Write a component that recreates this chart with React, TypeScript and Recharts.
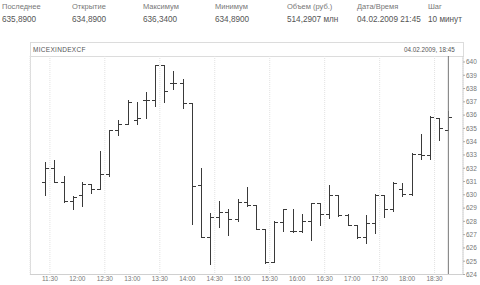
import React from 'react';
import { ComposedChart, Bar, XAxis, YAxis, CartesianGrid, ReferenceLine } from 'recharts';

const times = [
  '11:20', '11:30', '11:40', '11:50', '12:00', '12:10', '12:20', '12:30', '12:40', '12:50',
  '13:00', '13:10', '13:20', '13:30', '13:40', '13:50', '14:00', '14:10', '14:20', '14:30',
  '14:40', '14:50', '15:00', '15:10', '15:20', '15:30', '15:40', '15:50', '16:00', '16:10',
  '16:20', '16:30', '16:40', '16:50', '17:00', '17:10', '17:20', '17:30', '17:40', '17:50',
  '18:00', '18:10', '18:20', '18:30', '18:40',
];
const opens = [
  631.0, 632.05, 630.95, 629.55, 629.95, 630.8, 630.45, 631.55, 634.85, 635.35,
  635.65, 637.1, 637.1, 639.75, 638.4, 638.4, 636.9, 630.75, 626.85, 628.3,
  628.7, 628.2, 629.45, 629.25, 627.4, 624.95, 627.95, 627.25, 627.25, 628.05,
  629.4, 628.55, 629.95, 628.45, 627.75, 626.85, 627.9, 630.0, 628.9, 630.45,
  630.05, 633.1, 633.0, 635.8, 634.89,
];
const highs = [
  632.5, 632.65, 631.4, 629.9, 631.0, 630.8, 633.3, 634.9, 635.6, 637.1,
  636.95, 637.75, 639.75, 639.75, 639.35, 638.75, 636.9, 632.0, 628.65, 629.55,
  628.95, 629.65, 630.55, 629.25, 627.4, 628.0, 628.95, 628.9, 628.55, 629.4,
  629.4, 630.75, 629.95, 628.55, 627.75, 628.45, 630.05, 630.0, 630.95, 630.9,
  633.15, 634.55, 635.9, 635.8, 636.34,
];
const lows = [
  630.0, 630.95, 629.45, 628.95, 629.15, 630.15, 630.4, 631.4, 634.5, 635.3,
  635.3, 635.75, 636.65, 637.0, 638.0, 636.5, 627.8, 626.8, 624.8, 627.55,
  627.0, 628.0, 629.15, 627.4, 624.85, 624.95, 627.25, 627.2, 627.2, 626.6,
  627.75, 628.25, 628.4, 627.75, 626.75, 626.35, 627.1, 628.3, 628.8, 629.9,
  630.0, 632.7, 632.7, 634.15, 634.89,
];
const closes = [
  632.0, 630.95, 629.55, 629.8, 630.8, 630.45, 631.55, 634.85, 635.35, 637.0,
  635.8, 637.1, 639.75, 637.85, 638.4, 636.9, 630.7, 626.8, 628.3, 628.7,
  628.2, 629.45, 629.25, 627.4, 624.95, 627.95, 628.9, 627.25, 628.05, 629.4,
  628.55, 629.95, 628.45, 627.75, 626.85, 627.9, 630.0, 628.9, 630.9, 630.05,
  633.1, 633.0, 635.85, 635.0, 635.89,
];
const xTickLabels = [
  '11:30', '12:00', '12:30', '13:00', '13:30', '14:00', '14:30', '15:00',
  '15:30', '16:00', '16:30', '17:00', '17:30', '18:00', '18:30',
];
const yTicks = [624, 625, 626, 627, 628, 629, 630, 631, 632, 633, 634, 635, 636, 637, 638, 639, 640];

const headerLabels = ['Последнее', 'Открытие', 'Максимум', 'Минимум', 'Объем (руб.)', 'Дата/Время', 'Шаг'];
const headerValues = ['635,8900', '634,8900', '636,3400', '634,8900', '514,2907 млн', '04.02.2009 21:45', '10 минут'];
const headerX = [2, 72, 143, 215, 287, 357, 428];

const toMin = (s: string) => {
  const [h, m] = s.split(':').map(Number);
  return h * 60 + m;
};
const fmt = (v: number) => {
  const h = Math.floor(v / 60);
  const m = Math.round(v - h * 60);
  return `${h}:${m < 10 ? '0' + m : m}`;
};

// bars are drawn at the middle of their 10-minute interval
const data = times.map((t, i) => ({
  t: toMin(t) + 5,
  time: t,
  open: opens[i],
  high: highs[i],
  low: lows[i],
  close: closes[i],
  range: [lows[i], highs[i]],
}));
const lastT = data[data.length - 1].t;

const OhlcShape = (props: any) => {
  const { x, y, width, height, payload } = props;
  if (x == null || y == null) return null;
  const top = Math.min(y, y + height);
  const bot = Math.max(y, y + height);
  const cx = Math.round(x + width / 2) + 0.5;
  const span = payload.high - payload.low;
  const py = (v: number) => Math.round(span > 0 ? top + ((payload.high - v) / span) * (bot - top) : top) + 0.5;
  const yo = py(payload.open);
  const yc = py(payload.close);
  return (
    <g stroke="#3a3a3a" strokeWidth={1} fill="none">
      <line x1={cx} x2={cx} y1={Math.round(top)} y2={Math.round(bot) + 1} />
      <line x1={cx - 3.5} x2={cx} y1={yo} y2={yo} />
      <line x1={cx} x2={cx + 3.5} y1={yc} y2={yc} />
    </g>
  );
};

const font = '"Liberation Sans", Arial, sans-serif';

export default function App() {
  return (
    <div style={{ position: 'absolute', left: 0, top: 0, width: 480, height: 285, background: '#fff', fontFamily: font }}>
      {headerLabels.map((l, i) => (
        <div key={'l' + i} style={{ position: 'absolute', left: headerX[i], top: 2, fontSize: 7.5, color: '#777', whiteSpace: 'nowrap', lineHeight: '10px' }}>{l}</div>
      ))}
      {headerValues.map((v, i) => (
        <div key={'v' + i} style={{ position: 'absolute', left: headerX[i], top: 14, fontSize: 8.2, color: '#555', whiteSpace: 'nowrap', lineHeight: '12px' }}>{v}</div>
      ))}
      <div style={{ position: 'absolute', left: 30, top: 42, width: 432, height: 13, border: '1px solid #dcdcdc', boxSizing: 'content-box' }} />
      <div style={{ position: 'absolute', left: 30, top: 56, width: 1, height: 218, background: '#dcdcdc' }} />
      <div style={{ position: 'absolute', left: 33, top: 44, fontSize: 6.5, color: '#555', lineHeight: '11px', letterSpacing: 0.3 }}>MICEXINDEXCF</div>
      <div style={{ position: 'absolute', left: 404, top: 44, fontSize: 6.3, color: '#555', lineHeight: '11px' }}>04.02.2009, 18:45</div>
      <div style={{ position: 'absolute', left: 0, top: 0 }}>
        <ComposedChart
          width={480}
          height={285}
          data={data}
          margin={{ top: 56, right: 0, bottom: 0, left: 30 }}
        >
          <CartesianGrid horizontal={false} stroke="#e2e2e2" strokeDasharray="1 1" />
          <XAxis
            dataKey="t"
            type="number"
            domain={[668.3, 1141]}
            allowDataOverflow
            ticks={xTickLabels.map(toMin)}
            tickFormatter={fmt}
            tickLine={false}
            tickSize={0}
            axisLine={{ stroke: '#d0d0d0' }}
            tick={{ fontSize: 6.5, fill: '#777', fontFamily: font }}
            tickMargin={1.5}
            height={10.5}
          />
          <YAxis
            orientation="right"
            domain={[624, 640.45]}
            allowDataOverflow
            ticks={yTicks}
            interval={0}
            width={17}
            tickSize={2}
            tickMargin={1}
            axisLine={{ stroke: '#d0d0d0' }}
            tickLine={{ stroke: '#aaa' }}
            tick={{ fontSize: 6.5, fill: '#777', fontFamily: font, textAnchor: 'start' }}
          />
          <ReferenceLine x={lastT} stroke="#777" strokeWidth={1} />
          <Bar dataKey="range" barSize={7} shape={<OhlcShape />} isAnimationActive={false} />
        </ComposedChart>
      </div>
    </div>
  );
}
